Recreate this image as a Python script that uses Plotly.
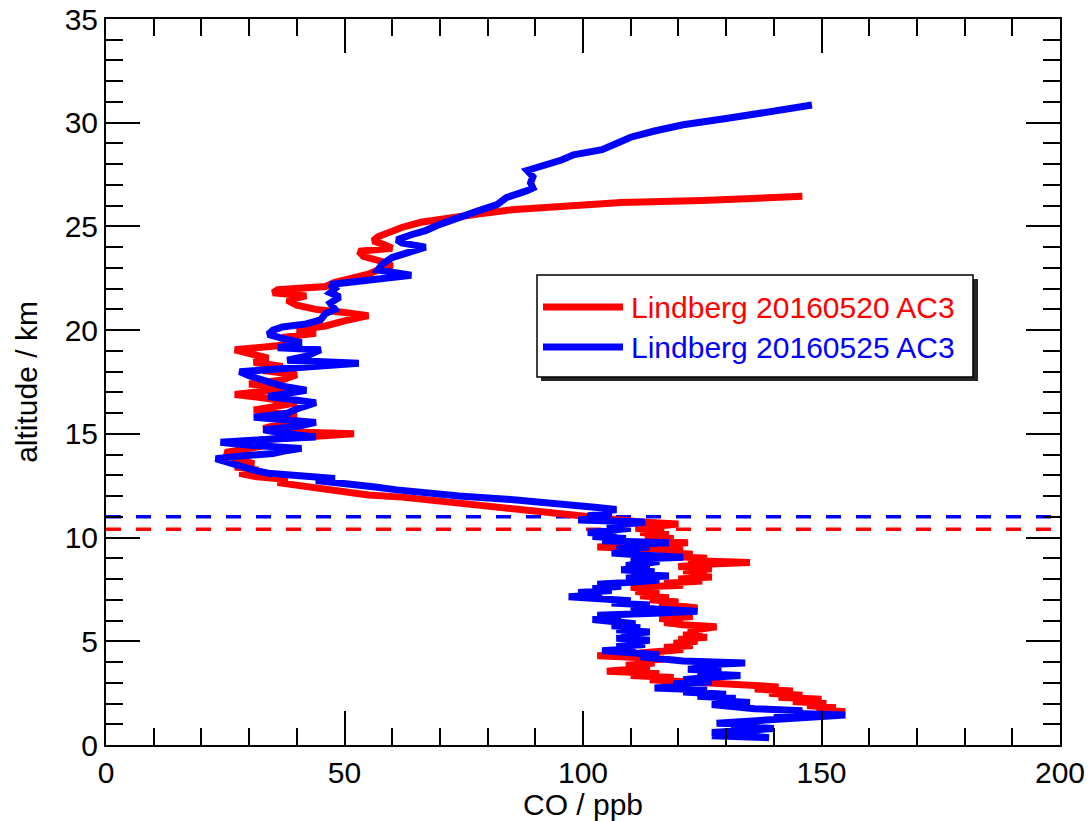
import plotly.graph_objects as go

# Red profile: Lindberg 20160520 AC3 (altitude km, CO ppb)
red_alt = [1.6, 1.7, 1.8, 1.9, 2.0, 2.1, 2.2, 2.3, 2.4, 2.5,
           2.6, 2.7, 2.8, 2.9, 3.0, 3.05, 3.15, 3.25, 3.35, 3.45,
           3.55, 3.65, 3.75, 3.85, 3.95, 4.05, 4.15, 4.25, 4.3, 4.4,
           4.5, 4.6, 4.7, 4.8, 4.9, 5.0, 5.1, 5.2, 5.3, 5.4,
           5.5, 5.6, 5.7, 5.8, 5.9, 6.0, 6.1, 6.2, 6.3, 6.4,
           6.5, 6.6, 6.7, 6.8, 6.9, 7.0, 7.1, 7.2, 7.3, 7.4,
           7.5, 7.6, 7.7, 7.8, 7.9, 8.0, 8.1, 8.2, 8.3, 8.4,
           8.5, 8.6, 8.7, 8.8, 8.9, 9.0, 9.1, 9.2, 9.3, 9.4,
           9.5, 9.55, 9.65, 9.75, 9.85, 9.95, 10.05, 10.15, 10.25, 10.35,
           10.45, 10.55, 10.65, 10.75, 10.85, 10.95, 11.05, 11.2, 11.35, 11.5,
           11.65, 11.8, 11.95, 12.05, 12.2, 12.35, 12.5, 12.65, 12.8, 12.95,
           13.1, 13.25, 13.4, 13.55, 13.7, 13.9, 14.1, 14.3, 14.5, 14.7,
           14.85, 15.0, 15.1, 15.25, 15.45, 15.6, 15.75, 15.95, 16.15, 16.35,
           16.5, 16.7, 16.9, 17.05, 17.2, 17.4, 17.6, 17.85, 18.05, 18.25,
           18.45, 18.65, 18.85, 19.05, 19.25, 19.45, 19.65, 19.85, 20.0, 20.2,
           20.45, 20.7, 20.85, 21.0, 21.2, 21.45, 21.65, 21.8, 21.95, 22.1,
           22.3, 22.5, 22.7, 22.9, 23.1, 23.3, 23.55, 23.8, 23.95, 24.15,
           24.3, 24.5, 24.7, 24.95, 25.2, 25.4, 25.6, 25.8, 26.0, 26.15,
           26.25, 26.45]
red_co = [155, 149, 153, 147, 151, 144, 150, 141, 146, 139,
          144, 136, 141, 131, 129, 118, 114, 119, 110, 116,
          105, 110, 114, 109, 115, 111, 117, 108, 103, 110,
          116, 121, 117, 123, 119, 124, 120, 126, 121, 125,
          122, 127, 128, 121, 117, 121, 116, 123, 118, 122,
          117, 124, 118, 116, 120, 114, 118, 112, 116, 111,
          115, 110, 121, 117, 125, 120, 127, 122, 126, 121,
          127, 120, 124, 135, 122, 126, 118, 123, 116, 121,
          108, 103, 115, 122, 114, 119, 113, 118, 112, 117,
          111, 115, 120, 112, 108, 104, 100, 93, 87, 82,
          77, 70, 62, 55, 50, 45, 41, 36, 38, 31,
          28, 32, 27, 31, 29, 26, 25, 30, 35, 32,
          40, 52, 38, 33, 36, 41, 34, 40, 31, 36,
          40, 34, 27, 33, 39, 30, 37, 40, 33, 37,
          31, 34, 31, 27, 36, 40, 37, 44, 40, 46,
          50, 55, 50, 44, 40, 38, 42, 35, 36, 46,
          48, 52, 55, 57, 60, 58, 54, 53, 60, 58,
          56, 57, 59, 62, 66, 71, 78, 85, 96, 108,
          125, 146]

# Blue profile: Lindberg 20160525 AC3 (altitude km, CO ppb)
blue_alt = [0.45, 0.4, 0.35, 0.5, 0.6, 0.7, 0.8, 0.9, 1.0, 1.05,
            1.15, 1.25, 1.35, 1.45, 1.55, 1.65, 1.75, 1.85, 1.95, 2.05,
            2.15, 2.25, 2.35, 2.45, 2.55, 2.65, 2.75, 2.85, 2.95, 3.05,
            3.15, 3.25, 3.35, 3.45, 3.55, 3.65, 3.75, 3.85, 3.95, 4.05,
            4.15, 4.25, 4.35, 4.45, 4.55, 4.65, 4.75, 4.85, 4.95, 5.05,
            5.15, 5.25, 5.35, 5.45, 5.55, 5.65, 5.75, 5.85, 5.95, 6.05,
            6.15, 6.25, 6.35, 6.45, 6.55, 6.65, 6.75, 6.85, 6.95, 7.05,
            7.15, 7.25, 7.35, 7.45, 7.55, 7.65, 7.75, 7.85, 7.95, 8.05,
            8.15, 8.25, 8.35, 8.45, 8.55, 8.65, 8.75, 8.85, 8.95, 9.05,
            9.15, 9.25, 9.35, 9.45, 9.55, 9.65, 9.75, 9.85, 9.95, 10.05,
            10.15, 10.25, 10.35, 10.45, 10.55, 10.65, 10.75, 10.85, 10.95, 11.05,
            11.15, 11.25, 11.35, 11.45, 11.55, 11.7, 11.85, 12.0, 12.15, 12.3,
            12.45, 12.6, 12.75, 12.85, 12.95, 13.1, 13.25, 13.4, 13.55, 13.7,
            13.8, 13.95, 14.05, 14.2, 14.3, 14.45, 14.6, 14.75, 14.85, 15.0,
            15.2, 15.35, 15.55, 15.7, 15.8, 16.0, 16.2, 16.5, 16.65, 16.8,
            16.95, 17.1, 17.3, 17.55, 17.8, 18.0, 18.2, 18.4, 18.55, 18.75,
            19.05, 19.15, 19.3, 19.4, 19.6, 19.8, 20.0, 20.15, 20.3, 20.5,
            20.8, 21.0, 21.3, 21.6, 21.8, 22.0, 22.2, 22.4, 22.65, 22.9,
            23.2, 23.5, 23.75, 24.0, 24.2, 24.35, 24.6, 24.8, 25.1, 25.45,
            25.75, 26.05, 26.4, 26.7, 26.85, 27.1, 27.4, 27.7, 27.95, 28.2,
            28.45, 28.7, 29.0, 29.3, 29.6, 29.9, 30.2, 30.5, 30.85]
blue_co = [127, 134, 139, 132, 127, 134, 140, 131, 137, 128,
           135, 142, 150, 155, 140, 146, 136, 130, 127, 135,
           128, 132, 124, 130, 121, 126, 115, 122, 119, 127,
           121, 126, 133, 124, 129, 122, 128, 123, 134, 121,
           115, 112, 116, 108, 104, 111, 107, 113, 109, 114,
           107, 112, 108, 114, 107, 112, 106, 111, 104, 102,
           108, 103, 115, 124, 116, 110, 114, 106, 110, 101,
           97, 104, 99, 106, 102, 108, 103, 110, 116, 109,
           118, 110, 115, 108, 114, 109, 112, 116, 110, 121,
           113, 106, 112, 107, 114, 109, 118, 104, 109, 102,
           107, 101, 106, 110, 105, 109, 113, 99, 104, 101,
           106, 104, 107, 103, 99, 92, 84, 74, 66, 61,
           56, 50, 44, 48, 40, 34, 31, 29, 27, 24,
           23, 29, 35, 38, 41, 30, 24, 35, 44, 38,
           33, 40, 44, 36, 31, 38, 40, 44, 38, 34,
           38, 42, 37, 33, 30, 28, 40, 53, 38, 42,
           45, 36, 39, 41, 37, 34, 35, 37, 42, 45,
           46, 48, 47, 49, 47, 48, 47, 55, 64, 57,
           58, 60, 64, 67, 62, 61, 64, 67, 70, 74,
           78, 82, 84, 88, 89.5, 89, 89.5, 88.3, 92, 95.5,
           98, 104, 107, 110, 115, 121, 130, 139, 148]

# Tropopause heights (km)
tropo_red = 10.4
tropo_blue = 11.0
x_span = [0, 200]

labels = ["Lindberg 20160520 AC3", "Lindberg 20160525 AC3"]
colors = ["#ff0000", "#0000ff"]

FONT = "Liberation Sans, Arial, Helvetica, sans-serif"

fig = go.Figure()
fig.add_trace(go.Scatter(x=x_span, y=[tropo_red, tropo_red], mode="lines",
                         line=dict(color=colors[0], width=3.5, dash="15px,15px"),
                         showlegend=False, hoverinfo="skip"))
fig.add_trace(go.Scatter(x=x_span, y=[tropo_blue, tropo_blue], mode="lines",
                         line=dict(color=colors[1], width=3.5, dash="15px,15px"),
                         showlegend=False, hoverinfo="skip"))
fig.add_trace(go.Scatter(x=red_co, y=red_alt, mode="lines", name=labels[0],
                         line=dict(color=colors[0], width=7), showlegend=False))
fig.add_trace(go.Scatter(x=blue_co, y=blue_alt, mode="lines", name=labels[1],
                         line=dict(color=colors[1], width=7), showlegend=False))

# body margin is removed in the page, so figure pixels equal window pixels
W, H = 1092, 821
L, R, T, B = 106, 32, 19, 76
pw, ph = W - L - R, H - T - B

def px(x):
    return (x - L) / pw

def py(y):
    return (H - B - y) / ph

shapes = []
# legend shadow
shapes.append(dict(type="rect", xref="paper", yref="paper", layer="above",
                   x0=px(541), x1=px(978), y0=py(381), y1=py(279),
                   fillcolor="rgba(0,0,0,0.85)", line=dict(width=0)))
# legend box
shapes.append(dict(type="rect", xref="paper", yref="paper", layer="above",
                   x0=px(537), x1=px(973), y0=py(377), y1=py(275),
                   fillcolor="white", line=dict(color="black", width=1.5)))
annotations = []
rows = [307, 347]
for lab, col, ry in zip(labels, colors, rows):
    shapes.append(dict(type="line", xref="paper", yref="paper", layer="above",
                       x0=px(543), x1=px(623), y0=py(ry), y1=py(ry),
                       line=dict(color=col, width=7)))
    annotations.append(dict(xref="paper", yref="paper", x=px(629), y=py(ry),
                            xanchor="left", yanchor="middle", showarrow=False,
                            text=lab, font=dict(family=FONT, size=30, color=col)))

axis_common = dict(showline=True, linecolor="black", linewidth=2, mirror="ticks",
                   ticks="inside", ticklen=34, tickwidth=2, tickcolor="black",
                   showgrid=False, zeroline=False, ticklabeloverflow="allow",
                   tickfont=dict(family=FONT, size=30, color="black"))

fig.update_layout(
    width=W, height=H,
    margin=dict(l=L, r=R, t=T, b=B, autoexpand=False),
    paper_bgcolor="white", plot_bgcolor="white",
    showlegend=False,
    shapes=shapes, annotations=annotations,
    xaxis=dict(range=[0, 200], dtick=50, tick0=0,
               minor=dict(dtick=10, ticklen=17, tickwidth=2, tickcolor="black", ticks="inside"),
               title=dict(text="CO / ppb", font=dict(family=FONT, size=30, color="black"), standoff=0),
               **axis_common),
    yaxis=dict(range=[0, 35], dtick=5, tick0=0,
               minor=dict(dtick=1, ticklen=17, tickwidth=2, tickcolor="black", ticks="inside"),
               title=dict(text="altitude / km", font=dict(family=FONT, size=30, color="black"), standoff=18),
               **axis_common),
)

fig.write_html("out.html", config={"displayModeBar": False},
               post_script="document.body.style.margin='0';document.body.style.overflow='hidden';")
